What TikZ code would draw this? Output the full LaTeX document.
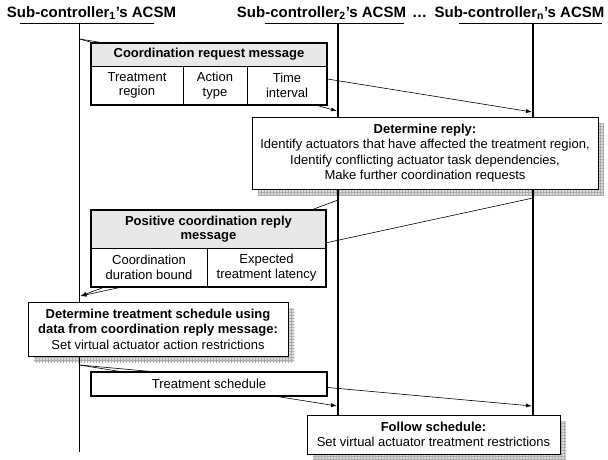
\documentclass[tikz,border=0pt]{standalone}
\usepackage{fontspec}
\setmainfont{Liberation Sans}
\usetikzlibrary{arrows.meta,patterns}
\tikzset{
  hdr/.style={font=\bfseries\fontsize{15}{17}\selectfont, anchor=base, inner sep=0pt},
  ul/.style={line width=0.8pt},
  lifeline/.style={line width=1.8pt},
  msg/.style={line width=0.6pt, -{Latex[length=6pt,width=4pt]}},
  cellbox/.style={draw, line width=0.6pt, fill=white, inner sep=0pt, outer sep=0pt, align=center,
    font=\fontsize{13}{14.5}\selectfont},
  titlecell/.style={cellbox, fill=gray!18, font=\bfseries\fontsize{13}{14.5}\selectfont},
  border/.style={draw, line width=1.8pt},
  notebox/.style={draw, line width=0.9pt, fill=white, inner sep=0pt, outer sep=0pt, align=center,
    font=\fontsize{13}{15.5}\selectfont},
  shadow/.style={fill=gray!28, postaction={pattern=grid, pattern color=gray!65}},
}
\begin{document}
\begin{tikzpicture}[x=1pt,y=-1pt]
\useasboundingbox (0,0) rectangle (608,459);
% headers
\node[hdr] (h1) at (91.5,17) {Sub-controller\textsubscript{1}’s ACSM};
\node[hdr] (h2) at (321.5,17) {Sub-controller\textsubscript{2}’s ACSM};
\node[hdr] (hd) at (419.5,17) {…};
\node[hdr] (hn) at (519.5,17) {Sub-controller\textsubscript{n}’s ACSM};
\coordinate (u1a) at (20,23); \coordinate (u1b) at (154,23);
\coordinate (u2a) at (265,23); \coordinate (u2b) at (404,23);
\coordinate (una) at (459,23); \coordinate (unb) at (602,23);
\draw[ul] (u1a) -- (u1b);
\draw[ul] (u2a) -- (u2b);
\draw[ul] (una) -- (unb);
% shadows
\fill[shadow] (258,123) rectangle (604,195);
\fill[shadow] (34,308) rectangle (294,362);
\fill[shadow] (313,421) rectangle (566,460);
% lifelines
\coordinate (l1top) at (79.5,23); \coordinate (l1bot) at (79.5,452);
\coordinate (l2top) at (338,23); \coordinate (l2bot) at (338,415);
\coordinate (lntop) at (533,23); \coordinate (lnbot) at (533,415);
\draw[lifeline] (l1top) -- (l1bot);
\draw[lifeline] (l2top) -- (l2bot);
\draw[lifeline] (lntop) -- (lnbot);
% messages
\coordinate (rqs) at (79.5,39);
\coordinate (rq2) at (337,111);
\coordinate (rqn) at (532,112);
\draw[msg] (rqs) -- (rq2);
\draw[msg] (rqs) -- (rqn);
\coordinate (rp2) at (338,200);
\coordinate (rpn) at (533,198);
\coordinate (rpe) at (80.5,296);
\draw[msg] (rp2) -- (rpe);
\draw[msg] (rpn) -- (rpe);
\coordinate (scs) at (79.5,365);
\coordinate (sc2) at (337,406);
\coordinate (scn) at (532,406);
\draw[msg] (scs) -- (sc2);
\draw[msg] (scs) -- (scn);
% coordination request message
\node[titlecell, minimum width=236, minimum height=23] (crT) at (209,54.5) {Coordination request message};
\node[cellbox, minimum width=92, minimum height=39] (cr1) at (137,85.5) {Treatment\\region};
\node[cellbox, minimum width=64, minimum height=39] (cr2) at (215,85.5) {Action\\type};
\node[cellbox, minimum width=80, minimum height=39] (cr3) at (287,85.5) {Time\\interval};
\draw[border] (crT.north west) rectangle (cr3.south east);
% determine reply
\node[notebox, minimum width=346, minimum height=72] (dr) at (425,153)
  {\textbf{Determine reply:}\\Identify actuators that have affected the treatment region,\\Identify conflicting actuator task dependencies,\\Make further coordination requests};
% positive reply
\node[titlecell, minimum width=235, minimum height=38] (prT) at (208.5,229) {Positive coordination reply\\message};
\node[cellbox, minimum width=116, minimum height=39] (pr1) at (149,267.5) {Coordination\\duration bound};
\node[cellbox, minimum width=119, minimum height=39] (pr2) at (266.5,267.5) {Expected\\treatment latency};
\draw[border] (prT.north west) rectangle (pr2.south east);
% determine schedule
\node[notebox, minimum width=260, minimum height=54] (ds) at (158,329)
  {\textbf{Determine treatment schedule using}\\\textbf{data from coordination reply message:}\\Set virtual actuator action restrictions};
% treatment schedule
\node[cellbox, minimum width=236, minimum height=24] (ts) at (209,384) {Treatment schedule};
\draw[border] (ts.north west) rectangle (ts.south east);
% follow schedule
\node[notebox, minimum width=253, minimum height=39] (fs) at (433.5,434.5)
  {\textbf{Follow schedule:}\\Set virtual actuator treatment restrictions};
\end{tikzpicture}
\end{document}
